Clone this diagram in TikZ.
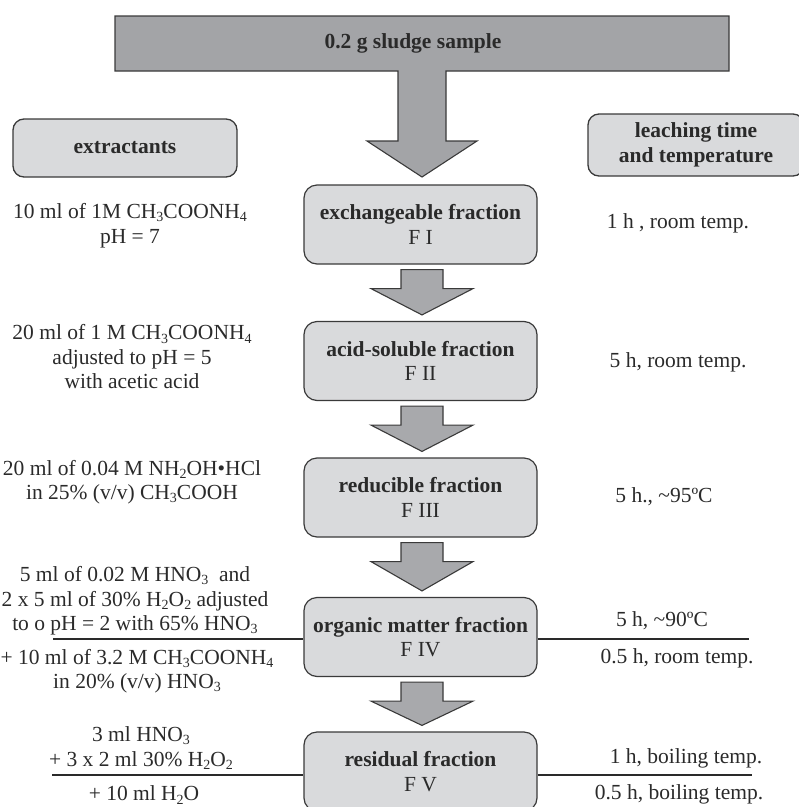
\documentclass[tikz,border=0pt]{standalone}
\usepackage{fontspec}
\setmainfont{Liberation Serif}
\usetikzlibrary{calc}
\definecolor{boxfill}{HTML}{D9DADC}
\definecolor{arrfill}{HTML}{A8A9AC}
\definecolor{edge}{HTML}{3A3A3A}
\definecolor{ink}{HTML}{2A2A2A}
\newcommand\chemsub[1]{\raisebox{-0.32ex}{\fontsize{14}{14}\selectfont #1}}
\newcommand\blockarr[2]{%
  \filldraw[arrstyle] ($(#1.south)+(-19.5,5)$) -- ($(#1.south)+(22.5,5)$) --
    ($(#1.south)+(22.5,24)$) -- ($(#1.south)+(52.5,24)$) --
    ($(#2.north)+(1.5,-6)$) -- ($(#1.south)+(-49.5,24)$) --
    ($(#1.south)+(-19.5,24)$) -- cycle;}
\tikzset{
  every node/.style={text=ink, font=\fontsize{21.5}{24.5}\selectfont},
  fracbox/.style={draw=edge, line width=1.2pt, fill=boxfill, rounded corners=13pt,
    minimum width=233pt, minimum height=79pt, align=center, inner sep=0pt},
  headbox/.style={draw=edge, line width=1.3pt, fill=boxfill, rounded corners=11pt,
    align=center, inner sep=0pt},
  txt/.style={align=center, inner sep=0pt},
  arrstyle/.style={draw=edge, line width=1.1pt, fill=arrfill, line join=miter},
  sepline/.style={draw=ink, line width=1.2pt}
}
\begin{document}
\begin{tikzpicture}[x=1pt,y=-1pt]
\useasboundingbox (0,0) rectangle (799,807);
\clip (0,0) rectangle (799,807);
% top T arrow
\filldraw[arrstyle, fill=arrfill!97!black] (115,16) -- (729,16) -- (729,71) -- (446,71) -- (446,141) -- (477,141)
  -- (422,177) -- (367,141) -- (398,141) -- (398,71) -- (115,71) -- cycle;
\node[txt, font=\fontsize{21.5}{24.5}\selectfont\bfseries] (top) at (413,43) {0.2 g sludge sample};
% header boxes
\node[headbox, minimum width=224pt, minimum height=58pt, font=\fontsize{21.5}{24.5}\selectfont\bfseries]
  (ext) at (125,148) {extractants};
\node[headbox, minimum width=216pt, minimum height=62pt, font=\fontsize{21.5}{24.5}\selectfont\bfseries]
  (leach) at (696,145) {leaching time\\and temperature};
% fraction boxes
\node[fracbox] (f1) at (420.5,224.5) {\bfseries exchangeable fraction\\F I};
\node[fracbox] (f2) at (420.5,361) {\bfseries acid-soluble fraction\\F II};
\node[fracbox] (f3) at (420.5,497.5) {\bfseries reducible fraction\\F III};
\node[fracbox] (f4) at (420.5,637) {\bfseries organic matter fraction\\F IV};
\node[fracbox] (f5) at (420.5,771.5) {\bfseries residual fraction\\F V};
% block arrows
\blockarr{f1}{f2}
\blockarr{f2}{f3}
\blockarr{f3}{f4}
\blockarr{f4}{f5}
% extractant texts
\node[txt] (e1) at (130,225.5) {10 ml of 1M CH\chemsub{3}COONH\chemsub{4}\\pH = 7};
\node[txt] (e2) at (132,357) {20 ml of 1 M CH\chemsub{3}COONH\chemsub{4}\\adjusted to pH = 5\\with acetic acid};
\node[txt] (e3) at (132,482) {20 ml of 0.04 M NH\chemsub{2}OH•HCl\\in 25\% (v/v) CH\chemsub{3}COOH};
\node[txt] (e4a) at (135,601) {5 ml of 0.02 M HNO\chemsub{3}\ \ and\\2 x 5 ml of 30\% H\chemsub{2}O\chemsub{2} adjusted\\to o pH = 2 with 65\% HNO\chemsub{3}};
\node[txt] (e4b) at (137,671) {+ 10 ml of 3.2 M CH\chemsub{3}COONH\chemsub{4}\\in 20\% (v/v) HNO\chemsub{3}};
\node[txt] (e5a) at (141,748) {3 ml HNO\chemsub{3}\\+ 3 x 2 ml 30\% H\chemsub{2}O\chemsub{2}};
\node[txt] (e5b) at (144,795) {+ 10 ml H\chemsub{2}O};
% time texts
\node[txt] (t1) at (678,223) {1 h , room temp.};
\node[txt] (t2) at (678,362) {5 h, room temp.};
\node[txt] (t3) at (664,497) {5 h., \textasciitilde95ºC};
\node[txt] (t4a) at (662,621) {5 h, \textasciitilde90ºC};
\node[txt] (t4b) at (677,658) {0.5 h, room temp.};
\node[txt] (t5a) at (686,758) {1 h, boiling temp.};
\node[txt] (t5b) at (679,794) {0.5 h, boiling temp.};
% separator lines
\coordinate (l4l) at (53,639);
\coordinate (l4r) at (749,639);
\coordinate (l5l) at (52,775);
\coordinate (l5r) at (752,775);
\draw[sepline] (l4l) -- (l4l -| f4.west);
\draw[sepline] (f4.east |- l4r) -- (l4r);
\draw[sepline] (l5l) -- (l5l -| f5.west);
\draw[sepline] (f5.east |- l5r) -- (l5r);
\end{tikzpicture}
\end{document}
